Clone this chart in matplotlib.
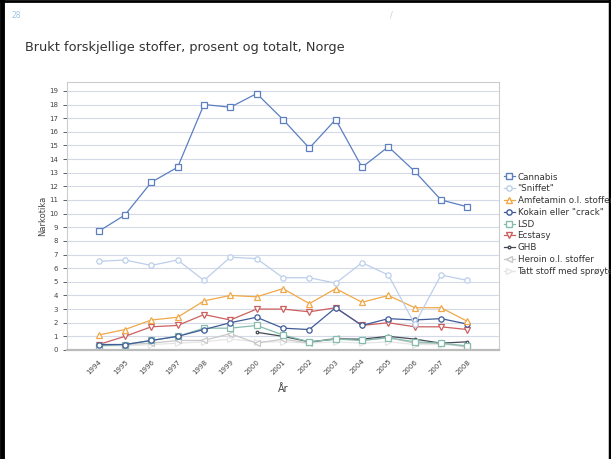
import numpy as np
import matplotlib.pyplot as plt
from matplotlib.lines import Line2D

plt.rcParams['font.family'] = ['DejaVu Sans']

years = [str(y) for y in range(1994, 2009)]

cannabis = [8.7, 9.9, 12.3, 13.4, 18.0, 17.8, 18.8, 16.9, 14.8, 16.9, 13.4, 14.9, 13.1, 11.0, 10.5]
sniffet = [6.5, 6.6, 6.2, 6.6, 5.1, 6.8, 6.7, 5.3, 5.3, 4.9, 6.4, 5.5, 1.9, 5.5, 5.1]
amfetamin = [1.1, 1.5, 2.2, 2.4, 3.6, 4.0, 3.9, 4.5, 3.4, 4.5, 3.5, 4.0, 3.1, 3.1, 2.1]
kokain = [0.4, 0.4, 0.7, 1.0, 1.5, 2.0, 2.4, 1.6, 1.5, 3.1, 1.8, 2.3, 2.2, 2.3, 1.9]
lsd = [0.3, 0.4, 0.7, 1.0, 1.6, 1.6, 1.8, 1.1, 0.6, 0.8, 0.7, 0.9, 0.6, 0.5, 0.3]
ecstasy = [0.4, 1.0, 1.7, 1.8, 2.6, 2.2, 3.0, 3.0, 2.8, 3.1, 1.8, 2.0, 1.7, 1.7, 1.5]
ghb = [np.nan] * 6 + [1.3, 1.0, 0.6, 0.8, 0.8, 1.0, 0.8, 0.5, 0.6]
heroin = [0.4, 0.4, 0.5, 0.7, 0.7, 1.2, 0.5, 0.8, 0.5, 0.9, 0.7, 0.9, 0.5, 0.5, 0.2]
sproyte = [0.3, 0.3, 0.4, 0.5, 0.6, 0.8, 0.6, 0.6, 0.5, 0.6, 0.5, 0.6, 0.4, 0.4, 0.3]

series = [
    ("Cannabis", cannabis, '#5b7fc0', 's'),
    ('"Sniffet"', sniffet, '#bccfea', 'o'),
    ("Amfetamin o.l. stoffer", amfetamin, '#f0a848', '^'),
    ('Kokain eller "crack"', kokain, '#3f5c98', 'o'),
    ("LSD", lsd, '#86bcae', 's'),
    ("Ecstasy", ecstasy, '#cc6060', 'v'),
    ("GHB", ghb, '#454b55', '.'),
    ("Heroin o.l. stoffer", heroin, '#c8c8c8', '<'),
    ("Tatt stoff med sprøyte", sproyte, '#e6e6e6', '>'),
]

fig = plt.figure(figsize=(6.11, 4.59), dpi=100)
ax = fig.add_axes([67 / 611, 1 - 350 / 459, 432 / 611, 268 / 459])

x = np.arange(len(years))
# draw back to front so cannabis sits on top
for name, vals, col, mk in reversed(series):
    ax.plot(x, vals, color=col, lw=0.9, marker=mk, markersize=3.8,
            markerfacecolor='white', markeredgecolor=col, markeredgewidth=0.9,
            label=name)

ax.set_xlim(-1.2, 15.2)
ax.set_ylim(0, 19.65)
ax.set_yticks(range(0, 20))
ax.set_xticks(x)
ax.set_xticklabels(years, rotation=45, ha='right', rotation_mode='anchor', fontsize=5, color='#444444')
ax.tick_params(axis='y', labelsize=5, colors='#444444', length=3, width=0.6)
ax.tick_params(axis='x', length=0, pad=6)
ax.grid(axis='y', color='#d4dae8', lw=0.8)
ax.set_axisbelow(True)
for s in ax.spines.values():
    s.set_color('#cccccc')
    s.set_linewidth(0.8)
ax.spines['bottom'].set_linewidth(1.6)
ax.spines['bottom'].set_color('#bbbbbb')

ax.set_ylabel("Narkotika", fontsize=6, color='#444444', labelpad=1)
ax.set_xlabel("År", fontsize=7, color='#444444', labelpad=6)

handles = [Line2D([0], [0], color=c, lw=0.9, marker=m, markersize=3.8,
                  markerfacecolor='white', markeredgecolor=c) for _, _, c, m in series]
fig.legend(handles, [s[0] for s in series], loc='upper left',
           bbox_to_anchor=(500 / 611, 1 - 169 / 459), frameon=False,
           fontsize=6.3, handlelength=1.3, handletextpad=0.3, labelspacing=0.32,
           labelcolor='#333333', borderaxespad=0)

fig.text(25 / 611, 1 - 47 / 459, "Brukt forskjellige stoffer, prosent og totalt, Norge",
         fontsize=9.3, color='#333333', va='center', ha='left')
fig.text(12 / 611, 1 - 15 / 459, "28", fontsize=5.5, color='#9cc4e4', va='center')
fig.text(390 / 611, 1 - 15 / 459, "/", fontsize=6, color='#cccccc', va='center')

# black slide frame (left, top, right)
fig.add_artist(Line2D([2 / 611, 2 / 611], [0, 1], color='black', lw=3.5, transform=fig.transFigure))
fig.add_artist(Line2D([0, 1], [1 - 1 / 459, 1 - 1 / 459], color='black', lw=2, transform=fig.transFigure))
fig.add_artist(Line2D([1 - 1.5 / 611, 1 - 1.5 / 611], [0, 1], color='black', lw=2.5, transform=fig.transFigure))

fig.savefig("out.png", dpi=100, facecolor='white')
